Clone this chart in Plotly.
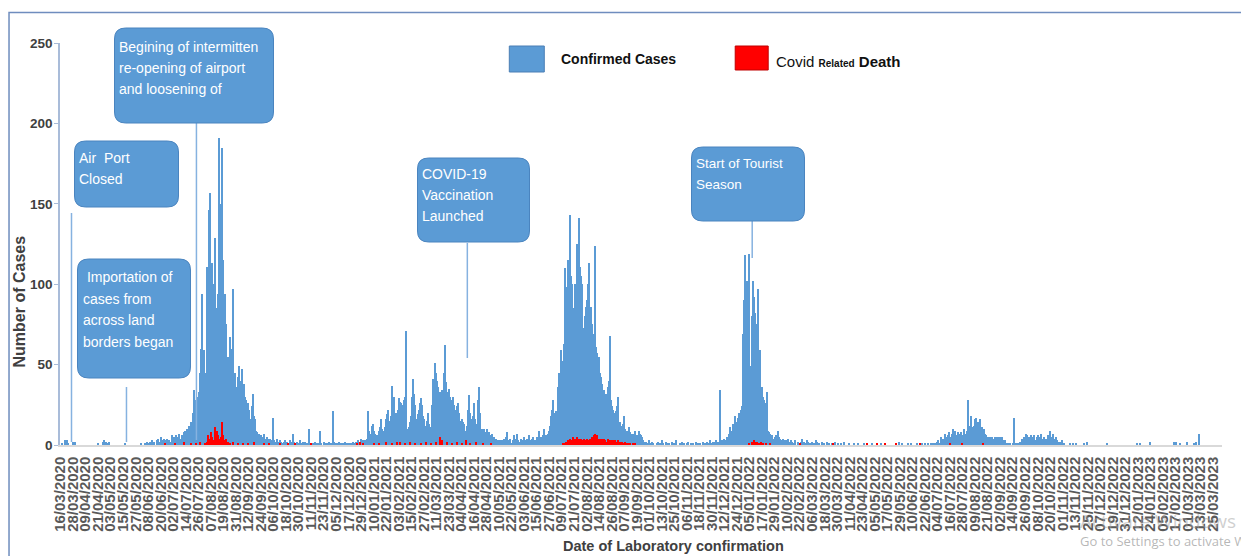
import pandas as pd
import plotly.graph_objects as go

# ---------------- data (daily laboratory-confirmed cases & deaths) ----------------
START = "2020-03-16"
N_DAYS = 1105  # 16/03/2020 .. 25/03/2023

# day number since 16/03/2020 -> consecutive daily values
cases_2020_early = [0, 1, 0, 0, 3, 2, 3, 1, 0, 0,
                    0, 0, 2, 1, 2, 0, 0, 0, 0, 0,
                    0, 0, 0, 0, 0, 0, 0, 0, 0, 0,
                    0, 0, 0, 0, 0, 0, 1, 0, 0, 0,
                    0, 2, 3, 2, 2, 1, 2, 0, 0, 0,
                    0, 0, 0, 0, 0, 0, 0, 0, 0, 0,
                    0, 0, 1, 0, 0, 0, 0, 0, 0, 0,
                    0, 0, 0, 0, 0, 0, 0, 1, 0, 0,
                    0, 1, 0, 2, 0, 1, 2, 0, 3, 1,
                    2, 0, 3, 4, 1, 2, 5, 3, 1, 4,
                    3, 1, 4, 2, 3, 1, 2, 6, 3, 5]
cases_wave1 = [4, 6, 3, 5, 7, 4, 6, 5, 8, 9,
               7, 10, 8, 12, 11, 14, 13, 20,
               34, 28, 25, 30, 27, 33, 45,
               60, 94, 59, 45, 30, 111, 105, 146, 157, 90,
               113, 100, 69, 129, 65, 85, 94, 191, 142, 150,
               185, 115, 67, 94, 75, 55, 53, 67, 60, 40,
               97, 36, 45, 26, 36, 42, 49, 34, 40, 47,
               22, 38, 30, 28, 20, 26, 22, 16, 24, 32, 18, 16, 9,
               8, 6, 7, 5, 6, 4, 5, 7, 4, 3, 5, 4, 3, 4, 2, 3, 17, 3, 2]
cases_lull1 = [4, 2, 1, 3, 2, 0, 1, 2, 3, 1, 2, 0, 1, 3, 2, 1, 7, 2, 1, 0,
               2, 1, 3, 1, 0, 2, 1, 2, 1, 0, 1, 10, 1, 0,
               0, 1, 0, 2, 1, 0, 1, 0, 9, 1, 0, 2, 1, 0, 1, 0, 2, 1, 0, 1,
               21, 2, 1, 0, 1, 0, 2, 0, 1, 0, 1, 0, 2, 1, 0, 1, 0]
cases_wave2 = [1, 0, 2, 1, 0, 2, 1, 3, 1, 2,
               4, 2, 3, 1, 3, 2, 4, 21, 9, 7,
               12, 13, 9, 7, 5, 6, 4, 9, 11, 16,
               10, 7, 9, 11, 16, 19, 22, 7, 15, 18,
               37, 30, 20, 13, 20, 22, 29, 27, 26, 22,
               25, 28, 30, 71, 10, 7, 11, 14, 18, 30,
               41, 32, 25, 16, 19, 22, 26, 29, 25, 18,
               16, 12, 9, 15, 20, 13, 11, 7, 25, 41,
               36, 51, 45, 40, 36, 31, 33, 34, 28, 45,
               62, 39, 33, 28, 35, 30, 26, 28, 30, 25,
               22, 16, 24, 26, 20, 15, 11, 16, 14, 13,
               9, 12, 22, 31, 20, 16, 11, 18, 26, 16,
               13, 11, 28, 36, 20, 9, 10, 10, 10, 8,
               7, 10, 8, 5, 6, 7, 4, 5, 3, 4,
               2, 3, 2, 3]
cases_lull2 = [2, 3, 1, 4, 2, 5, 8, 3, 2, 4, 1, 3, 6, 2, 4, 7, 3, 2, 1, 4,
               3, 2, 5, 3, 1, 4, 2, 6, 3, 2, 4, 5, 3]
cases_wave3 = [3, 5, 4, 9, 3, 5, 2, 6, 10, 4,
               6, 5, 7, 9, 12, 18, 22, 28, 20, 16,
               21, 18, 36, 45, 59, 47, 52, 63, 110, 89,
               98, 115, 113, 143, 105, 100, 69, 85, 100, 69,
               125, 113, 141, 111, 105, 100, 73, 80, 86, 90,
               100, 113, 65, 86, 75, 69, 67, 124, 61, 57,
               53, 55, 45, 42, 38, 32, 34, 30, 32, 36,
               40, 68, 28, 24, 22, 20, 18, 21, 24, 30,
               11, 14, 12, 9, 13, 18, 10, 9, 7, 9,
               11, 8, 7, 5, 7, 9, 6, 4, 6, 9,
               7, 6, 5, 3, 2, 1]
cases_lull3 = [2, 0, 1, 3, 1, 0, 2, 1, 0, 0, 1, 2, 0, 1, 0, 3, 1, 0, 0, 2,
               1, 0, 1, 0, 0, 2, 1, 0, 1, 3, 0, 0, 1, 0, 2, 0, 1, 0, 0, 1,
               2, 0, 0, 1, 0, 1, 0, 0, 2, 0, 1, 0]
cases_wave4 = [1, 0, 2, 1, 0, 1, 2, 0, 1, 3,
               1, 0, 2, 1, 2, 3, 1, 2, 1, 34,
               2, 3, 2, 4, 3, 5, 4, 7, 11, 9,
               8, 13, 10, 18, 14, 12, 17, 20, 20, 22,
               24, 69, 90, 118, 84, 102, 65, 119, 49, 80,
               102, 92, 82, 67, 75, 97, 45, 59, 20, 36,
               30, 28, 26, 16, 33, 9, 8, 7, 5, 6,
               4, 5, 6, 4, 9, 5, 4, 3, 2, 4,
               3, 1, 3, 2, 4, 2, 1, 3]
cases_wave5 = [0, 1, 0, 0, 1, 0, 0, 1, 0, 0,
               1, 0, 1, 0, 1, 0, 2, 3, 1, 5,
               2, 4, 3, 7, 4, 5, 6, 8, 5, 4,
               7, 10, 9, 9, 6, 5, 8, 6, 7, 8,
               6, 10, 7, 6, 9, 28, 12, 10, 18, 11,
               9, 12, 16, 17, 9, 14, 12, 16, 7, 11,
               9, 10, 7, 6, 5, 4, 5, 5, 5, 4,
               4, 5, 4, 5, 5, 4, 5, 4, 5, 2,
               3, 3, 1, 0, 1, 0, 1, 0, 1, 17,
               1, 0, 1, 0, 1, 2, 1, 4, 3, 5,
               4, 7, 6, 4, 5, 3, 6, 5, 4, 6,
               3, 5, 6, 4, 5, 7, 3, 4, 5, 4,
               4, 3, 6, 5, 9, 5, 4, 7, 4, 3,
               5, 3, 2, 2, 1, 3, 1, 1, 0, 0,
               0, 0]
cases_sparse = {701: 2, 703: 1, 704: 3, 706: 2, 707: 1, 709: 2, 710: 4, 712: 2, 713: 1,
                715: 3, 716: 2, 718: 1, 720: 2, 722: 1, 724: 3, 725: 2, 727: 1, 729: 2,
                731: 1, 734: 2, 736: 1, 739: 1, 742: 2, 745: 1, 748: 1, 751: 2, 755: 1,
                760: 1, 764: 1, 770: 1, 777: 1, 782: 1, 786: 1, 800: 1, 803: 2, 806: 1,
                812: 1, 815: 1, 820: 1,
                967: 1, 970: 1, 973: 1, 980: 1, 983: 2, 1002: 1, 1031: 1, 1034: 1,
                1044: 2, 1067: 2, 1069: 2, 1072: 1, 1079: 2, 1086: 1, 1088: 2, 1091: 7}
case_segments = [(0, cases_2020_early), (110, cases_wave1), (207, cases_lull1),
                 (278, cases_wave2), (422, cases_lull2), (455, cases_wave3),
                 (561, cases_lull3), (613, cases_wave4), (824, cases_wave5)]

deaths_wave1 = [1, 0, 2, 6, 3, 4, 8, 5, 2, 3, 11, 7, 9, 6, 4, 3, 5, 14, 6, 3, 2, 4, 2]
deaths_wave3 = [0, 1, 0, 1, 2, 1, 3, 2, 4, 3,
                2, 5, 3, 4, 3, 5, 2, 4, 3, 4,
                3, 4, 2, 3, 4, 3, 2, 4, 3, 5,
                4, 6, 7, 5, 6, 4, 3, 4, 3, 4,
                3, 4, 3, 2, 4, 3, 2, 3, 2, 3,
                2, 3, 1, 2, 3, 1, 2, 1, 2, 1,
                1, 2, 0, 1, 1, 0, 1, 0, 1, 0, 1]
deaths_sparse = {100: 1, 110: 1, 118: 2, 125: 1, 130: 1, 134: 2, 162: 1, 165: 2, 170: 1,
                 175: 1, 180: 1, 185: 2, 195: 1, 200: 1, 210: 1, 218: 1, 225: 1, 240: 1,
                 284: 1, 287: 2, 290: 1, 300: 1, 305: 1, 312: 2, 318: 1, 322: 2, 325: 2,
                 330: 1, 335: 2, 340: 1, 345: 1, 350: 2, 355: 1, 360: 2, 364: 5, 365: 3,
                 370: 2, 375: 1, 380: 2, 385: 1, 388: 3, 392: 1, 398: 2, 405: 1, 412: 1,
                 660: 1, 662: 2, 664: 3, 665: 2, 667: 2, 669: 1, 671: 2, 673: 1, 676: 1,
                 680: 1, 708: 1, 740: 1, 773: 1, 782: 1, 790: 1, 800: 1, 823: 1, 852: 1,
                 864: 1, 884: 1}
death_segments = [(138, deaths_wave1), (480, deaths_wave3)]

box_texts = {
    "reopen": ["Begining of intermitten", "re-opening of airport", "and loosening of"],
    "airport": ["Air  Port", "Closed"],
    "import": [" Importation of", "cases from", "across land", "borders began"],
    "vaccine": ["COVID-19", "Vaccination", "Launched"],
    "tourist": ["Start of Tourist", "Season"],
}

# ---------------- build daily series ----------------
dates = pd.date_range(START, periods=N_DAYS, freq="D")
cases = [0] * N_DAYS
for off, vals in case_segments:
    for i, v in enumerate(vals):
        cases[off + i] = v
for off, v in cases_sparse.items():
    cases[off] = v
deaths = [0] * N_DAYS
for off, vals in death_segments:
    for i, v in enumerate(vals):
        deaths[off + i] = v
for off, v in deaths_sparse.items():
    deaths[off] = v

# ---------------- figure geometry (page has an 8px body margin) ----------------
OFF = 8
W, H = 1249 - OFF, 556 - OFF
PL, PR, PT, PB = 59.5, 1222, 43, 445          # plot area in window pixels
ML, MT = PL - OFF, PT - OFF
MR, MB = W - (PR - OFF), H - (PB - OFF)
PW, PH = PR - PL, PB - PT
PX_PER_DAY = 1.0444
DAY0_PX = 60.0


def X(px):
    return (px - PL) / PW


def Y(py):
    return (PB - py) / PH


FONT = "Liberation Sans, Arial, Helvetica, sans-serif"
BLUE = "#5B9BD5"
BOX_EDGE = "#4A84BF"
PTR = "#86B2E0"

fig = go.Figure()
fig.add_trace(go.Bar(x=dates, y=cases, marker=dict(color=BLUE, line=dict(width=0)),
                     name="Confirmed Cases", showlegend=False))
fig.add_trace(go.Bar(x=dates, y=deaths, marker=dict(color="#FF0000", line=dict(width=0)),
                     name="Covid Related Death", showlegend=False))

shapes = []
annotations = []


def rounded_box(x0, y0, x1, y1, r=11):
    a0, a1 = x0 - PL, x1 - PL
    b0, b1 = PB - y1, PB - y0
    path = (f"M{a0 + r},{b0} L{a1 - r},{b0} Q{a1},{b0} {a1},{b0 + r} "
            f"L{a1},{b1 - r} Q{a1},{b1} {a1 - r},{b1} L{a0 + r},{b1} "
            f"Q{a0},{b1} {a0},{b1 - r} L{a0},{b0 + r} Q{a0},{b0} {a0 + r},{b0} Z")
    shapes.append(dict(type="path", xref="paper", yref="paper", xsizemode="pixel",
                       ysizemode="pixel", xanchor=0, yanchor=0, path=path,
                       fillcolor=BLUE, line=dict(color=BOX_EDGE, width=1), layer="above"))


def box_lines(lines, x, y_first, step=21, size=14):
    for i, t in enumerate(lines):
        annotations.append(dict(xref="paper", yref="paper", x=X(x), y=Y(y_first + i * step),
                                xanchor="left", yanchor="middle", text=t, showarrow=False,
                                font=dict(family=FONT, size=size, color="white")))


def pointer(x, y0, y1, width=1.5):
    shapes.append(dict(type="line", xref="paper", yref="paper", x0=X(x), x1=X(x),
                       y0=Y(y0), y1=Y(y1), line=dict(color=PTR, width=width), layer="above"))


# pointers
pointer(71, 213, 442)
pointer(126, 387, 442)
pointer(196, 123, 440)
pointer(467, 243, 358)
pointer(752, 221, 258)

# boxes
rounded_box(114, 28, 273, 123)
box_lines(box_texts["reopen"], 117, 47)
rounded_box(74, 141, 178, 207)
box_lines(box_texts["airport"], 77, 158)
rounded_box(77, 259, 190, 378)
box_lines(box_texts["import"], 81, 277, step=21.7)
rounded_box(417, 158, 529, 242)
box_lines(box_texts["vaccine"], 420, 174)
rounded_box(691, 147, 804, 221)
box_lines(box_texts["tourist"], 694, 163, size=13.5)

# custom legend
shapes.append(dict(type="rect", xref="paper", yref="paper", x0=X(509), x1=X(544),
                   y0=Y(72), y1=Y(46), fillcolor=BLUE, line=dict(color="#4A7FB5", width=1)))
shapes.append(dict(type="rect", xref="paper", yref="paper", x0=X(735), x1=X(768),
                   y0=Y(70), y1=Y(46), fillcolor="#FF0000", line=dict(color="#C00000", width=1)))
annotations.append(dict(xref="paper", yref="paper", x=X(559), y=Y(59), xanchor="left",
                        yanchor="middle", text="<b>Confirmed Cases</b>", showarrow=False,
                        font=dict(family=FONT, size=14, color="#111111")))
annotations.append(dict(xref="paper", yref="paper", x=X(774), y=Y(62), xanchor="left",
                        yanchor="middle",
                        text="Covid <b><span style='font-size:10px'>Related</span> Death</b>",
                        showarrow=False, font=dict(family=FONT, size=15, color="#111111")))

# axis titles
annotations.append(dict(xref="paper", yref="paper", x=X(18), y=Y(302), xanchor="center",
                        yanchor="middle", text="<b>Number of Cases</b>", textangle=-90,
                        showarrow=False, font=dict(family=FONT, size=16, color="#404040")))
annotations.append(dict(xref="paper", yref="paper", x=X(673), y=Y(546), xanchor="center",
                        yanchor="middle", text="<b>Date of Laboratory confirmation</b>",
                        showarrow=False, font=dict(family=FONT, size=14.5, color="#404040")))

# screen watermark visible in the reference screenshot
annotations.append(dict(xref="paper", yref="paper", x=X(1078), y=Y(521), xanchor="left",
                        yanchor="middle", text="Activate Windows", showarrow=False,
                        font=dict(family="Open Sans, sans-serif", size=19,
                                  color="rgba(160,160,160,0.5)")))
annotations.append(dict(xref="paper", yref="paper", x=X(1078), y=Y(541), xanchor="left",
                        yanchor="middle", text="Go to Settings to activate Wi",
                        showarrow=False, font=dict(family="Open Sans, sans-serif", size=13,
                                                   color="rgba(160,160,160,0.75)")))

# outer frame
shapes.append(dict(type="rect", xref="paper", yref="paper", x0=X(8.5), x1=X(1262),
                   y0=Y(580), y1=Y(12.5), line=dict(color="#6F8DBE", width=1.5),
                   fillcolor="rgba(0,0,0,0)", layer="below"))

day = 86400000
x_lo = pd.Timestamp(START) + pd.Timedelta(hours=(PL - DAY0_PX) / PX_PER_DAY * 24)
x_hi = pd.Timestamp(START) + pd.Timedelta(hours=(PR - DAY0_PX) / PX_PER_DAY * 24)

fig.update_layout(
    width=W, height=H,
    margin=dict(l=ML, r=MR, t=MT, b=MB, pad=0, autoexpand=False),
    paper_bgcolor="white", plot_bgcolor="white",
    barmode="overlay", bargap=0,
    showlegend=False,
    shapes=shapes, annotations=annotations,
    xaxis=dict(type="date", range=[x_lo, x_hi], tickmode="linear", tick0=START,
               dtick=12 * day, tickformat="%d/%m/%Y", tickangle=-90, ticks="",
               ticklabelstandoff=4,
               tickfont=dict(family=FONT, size=15, color="#595959", weight="bold"),
               showline=True, linecolor="#D9D9D9", linewidth=1.5, showgrid=False,
               zeroline=False, fixedrange=True),
    yaxis=dict(range=[0, 250], tickmode="array", tickvals=[0, 50, 100, 150, 200, 250],
               ticks="outside", ticklen=4, tickcolor="#A9BCD9", tickwidth=1,
               showline=True, linecolor="#A9BCD9", linewidth=1.5, showgrid=False,
               zeroline=False, ticklabelstandoff=-1,
               tickfont=dict(family=FONT, size=13.5, color="#404040", weight="bold")),
)

fig.write_html("out.html")
